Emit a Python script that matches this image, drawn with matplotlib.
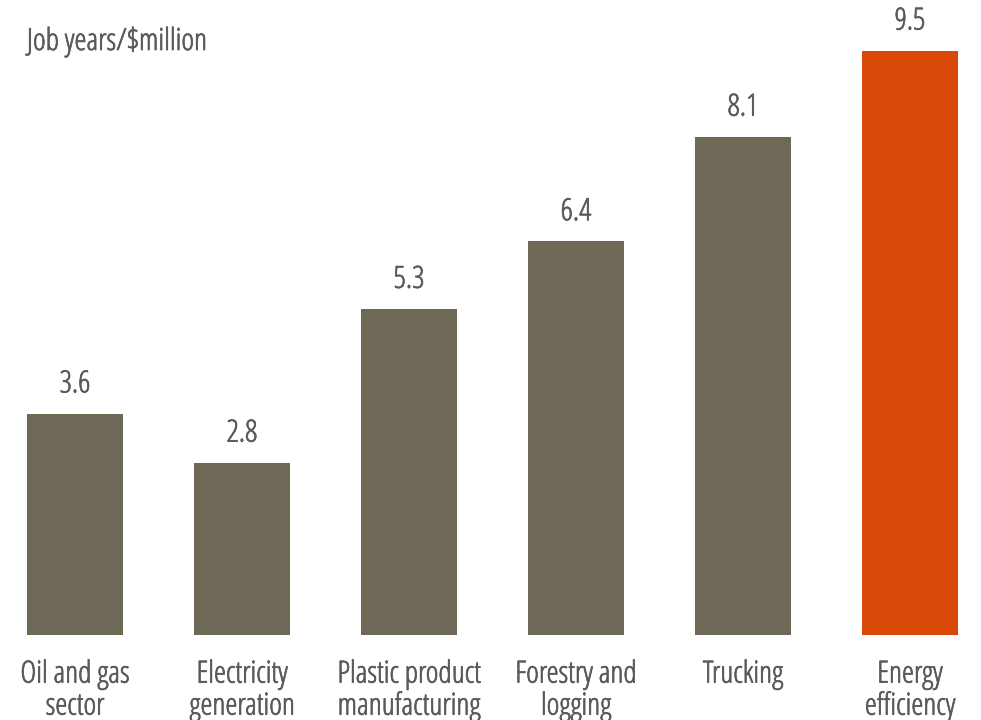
import matplotlib
matplotlib.use("Agg")
import matplotlib.pyplot as plt
from matplotlib import font_manager
from matplotlib.font_manager import FontProperties
import matplotlib.patheffects as pe

categories = ["Oil and gas\nsector", "Electricity\ngeneration", "Plastic product\nmanufacturing",
              "Forestry and\nlogging", "Trucking", "Energy\nefficiency"]
values = [3.6, 2.8, 5.3, 6.4, 8.1, 9.5]
labels = ["3.6", "2.8", "5.3", "6.4", "8.1", "9.5"]
colors = ["#6e6856"] * 5 + ["#d94a0a"]

path = None
for f in font_manager.fontManager.ttflist:
    if f.fname.endswith("OpenSans-CondLight.ttf"):
        path = f.fname
        break
if path:
    fp = FontProperties(fname=path, size=22)
else:
    fp = FontProperties(family="Open Sans", size=17)
txt = "#5a5a5a"
eff = [pe.withStroke(linewidth=0.5, foreground=txt)]

W, H = 981, 720
fig = plt.figure(figsize=(W / 100, H / 100), dpi=100)
ax = fig.add_axes([0, 85 / H, 1, 615 / H])
x = list(range(len(values)))
ax.bar(x, values, width=0.569, color=colors)
ax.set_xlim((0 - 75) / 167, (W - 75) / 167)
ax.set_ylim(0, 10)
for i, (v, l) in enumerate(zip(values, labels)):
    ax.annotate(l, (i, v), xytext=(0, 21), textcoords="offset points",
                ha="center", va="center", fontproperties=fp, color=txt, path_effects=eff)
ax.set_xticks(x)
ax.set_xticklabels(categories, fontproperties=fp, color=txt, linespacing=1.0, path_effects=eff)
ax.tick_params(axis="x", length=0, pad=17)
ax.set_yticks([])
for s in ax.spines.values():
    s.set_visible(False)
fig.text(27 / W, 1 - 42 / H, "Job years/$million", fontproperties=fp, color=txt,
         ha="left", va="center", path_effects=eff)
fig.savefig("out.png", dpi=100)
